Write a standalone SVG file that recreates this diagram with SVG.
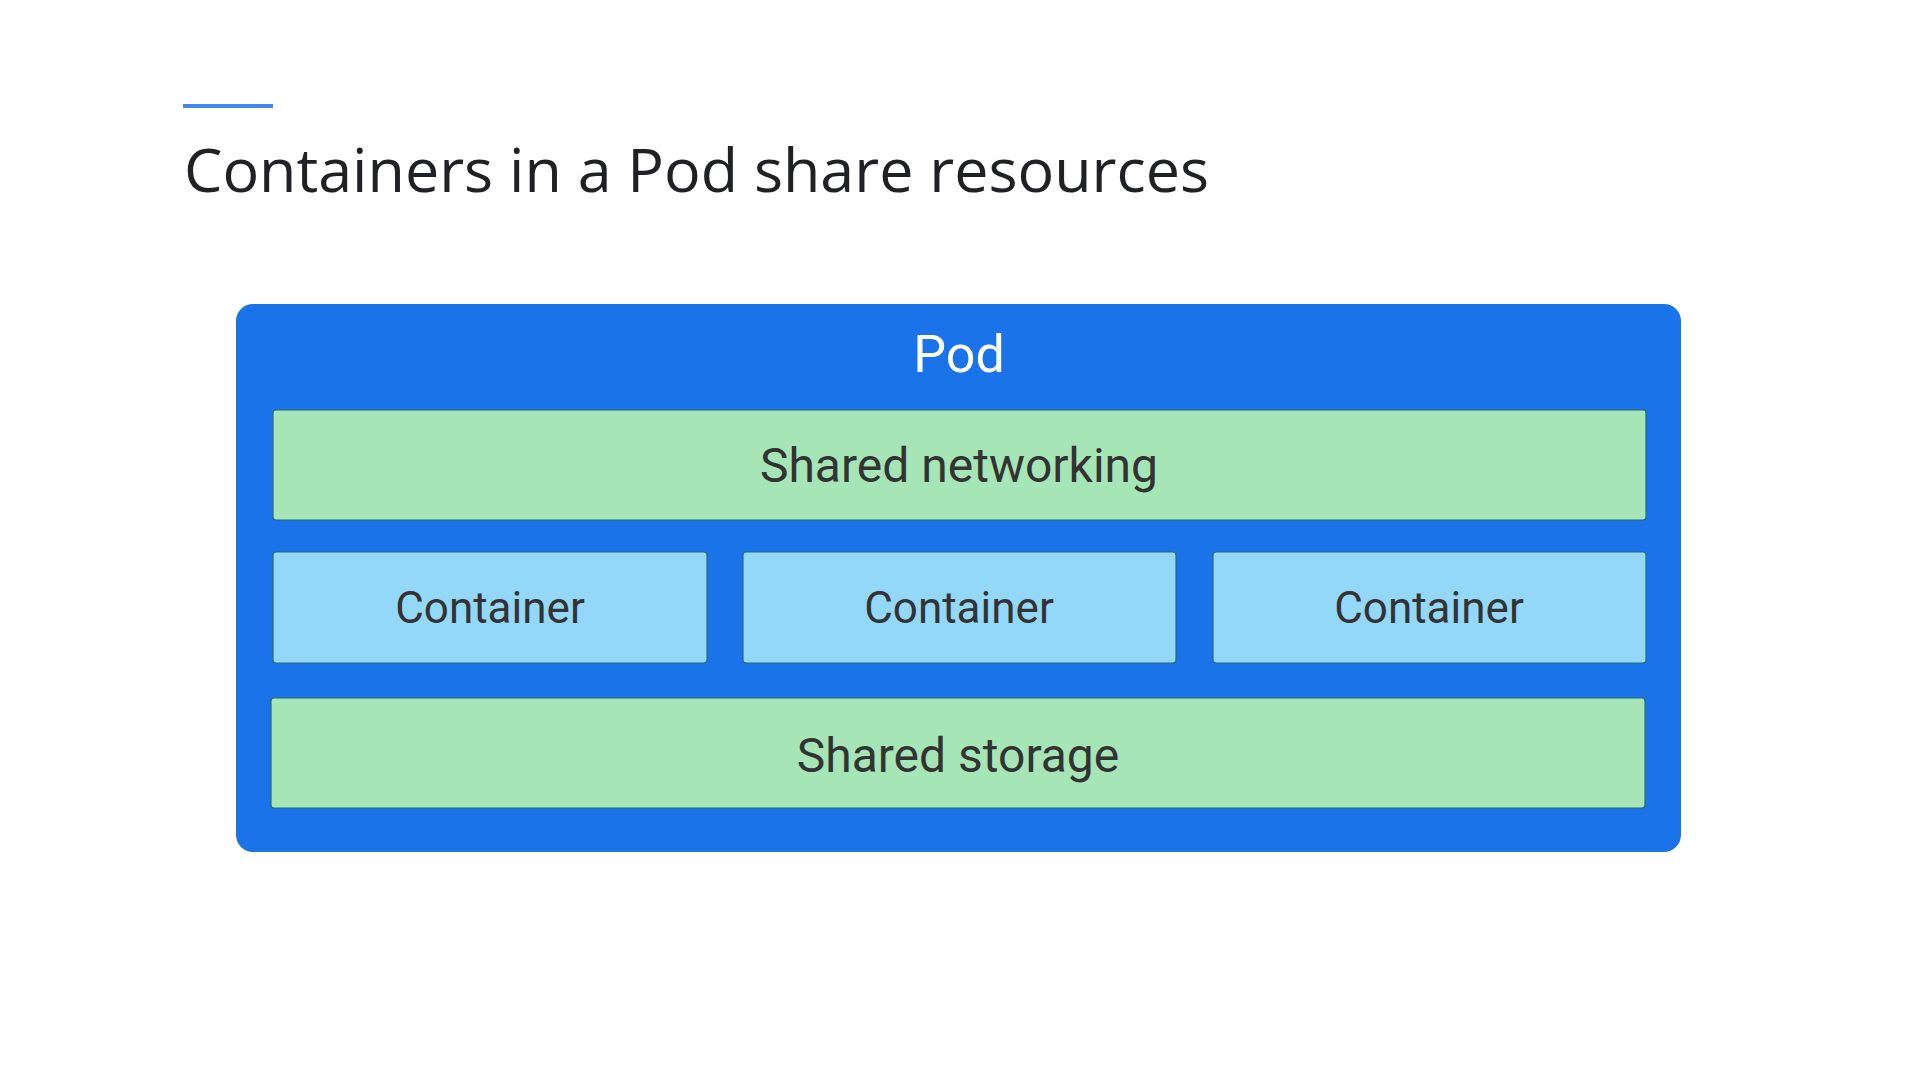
<svg xmlns="http://www.w3.org/2000/svg" width="1920" height="1080" viewBox="0 0 1920 1080">
  <style>
    .title { font-family: "Open Sans", Roboto, "Liberation Sans", sans-serif; font-size: 61px; fill: #202124; }
    .pod { fill: #1a73e8; }
    .podlabel { font-family: Roboto, "Liberation Sans", sans-serif; font-size: 52px; fill: #ffffff; text-anchor: middle; }
    .shared { fill: #a5e5b6; stroke: #266b7d; stroke-width: 1.2; }
    .container { fill: #94d8f9; stroke: #266b7d; stroke-width: 1.2; }
    .label { font-family: Roboto, "Liberation Sans", sans-serif; font-size: 48px; fill: #333333; text-anchor: middle; }
    .clabel { font-family: Roboto, "Liberation Sans", sans-serif; font-size: 44px; fill: #333333; text-anchor: middle; }
  </style>
  <rect width="1920" height="1080" fill="#ffffff"/>
  <line x1="183" y1="106" x2="273" y2="106" stroke="#4285f4" stroke-width="4"/>
  <text class="title" x="184" y="192" textLength="1025" lengthAdjust="spacingAndGlyphs">Containers in a Pod share resources</text>

  <g id="pod">
    <rect class="pod" x="236" y="304" width="1445" height="548" rx="17" ry="17"/>
    <text class="podlabel" x="959" y="372">Pod</text>
  </g>
  <g id="shared-networking">
    <rect class="shared" x="273" y="410" width="1373" height="110" rx="3" ry="3"/>
    <text class="label" x="959" y="482">Shared networking</text>
  </g>
  <g id="container-1">
    <rect class="container" x="273" y="552" width="434" height="111" rx="3" ry="3"/>
    <text class="clabel" x="490" y="623">Container</text>
  </g>
  <g id="container-2">
    <rect class="container" x="743" y="552" width="433" height="111" rx="3" ry="3"/>
    <text class="clabel" x="959" y="623">Container</text>
  </g>
  <g id="container-3">
    <rect class="container" x="1213" y="552" width="433" height="111" rx="3" ry="3"/>
    <text class="clabel" x="1429" y="623">Container</text>
  </g>
  <g id="shared-storage">
    <rect class="shared" x="271" y="698" width="1374" height="110" rx="3" ry="3"/>
    <text class="label" x="958" y="772">Shared storage</text>
  </g>
  <g id="connectors"></g>
</svg>
